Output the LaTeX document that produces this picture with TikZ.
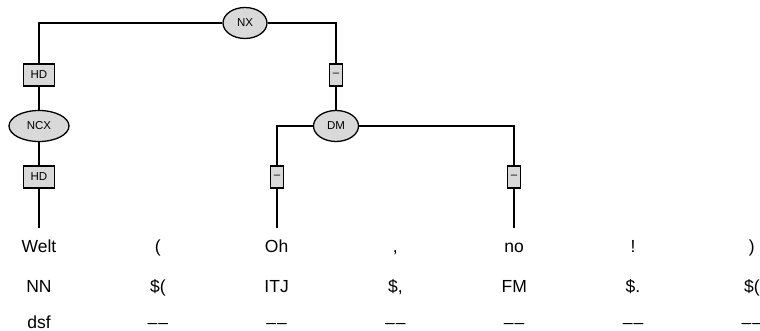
\documentclass[tikz,border=0pt]{standalone}
\usepackage{fontspec}
\setmainfont{Liberation Sans}
\usepackage{tikz}
\usetikzlibrary{shapes.geometric}
\newcommand{\dashpair}{\textendash\kern1pt\textendash}

\begin{document}
\begin{tikzpicture}[x=1pt, y=-1pt, line width=1.2pt,
  cat/.style={ellipse, draw, fill=black!15, line width=1.3pt, inner sep=0pt, minimum height=31pt, font=\fontsize{11.5}{13}\selectfont},
  fn/.style={rectangle, draw, fill=black!15, line width=1.3pt, inner sep=0pt, minimum height=22pt, font=\fontsize{11.5}{13}\selectfont},
  tok/.style={anchor=base, inner sep=0pt, font=\fontsize{17.5}{20}\selectfont}]
  \useasboundingbox (0,0) rectangle (760,331);
  % categories and functions
  \node[cat, minimum width=44pt] (nx) at (245,23) {NX};
  \node[fn, minimum width=31pt] (hd1) at (39,75) {HD};
  \node[cat, minimum width=60pt] (ncx) at (39,126) {NCX};
  \node[fn, minimum width=31pt] (hd2) at (39,177) {HD};
  \node[fn, minimum width=13pt] (fa) at (336,75) {\textendash};
  \node[cat, minimum width=45pt] (dm) at (336,126) {DM};
  \node[fn, minimum width=13pt] (fb) at (277,177) {\textendash};
  \node[fn, minimum width=13pt] (fc) at (514,177) {\textendash};
  % ends of the edges above the words
  \coordinate (e0) at (39,228);
  \coordinate (e2) at (277,228);
  \coordinate (e4) at (514,228);
  % edges
  \draw (nx.west) -| (hd1.north);
  \draw (nx.east) -| (fa.north);
  \draw (hd1) -- (ncx);
  \draw (ncx) -- (hd2);
  \draw (hd2) -- (e0);
  \draw (fa) -- (dm);
  \draw (dm.west) -| (fb.north);
  \draw (dm.east) -| (fc.north);
  \draw (fb) -- (e2);
  \draw (fc) -- (e4);
  % words, tags and features
  \foreach \i/\w/\p/\s in {0/Welt/NN/dsf, 1/(/\$(/\dashpair, 2/Oh/ITJ/\dashpair,
      3/{,}/{\$,}/\dashpair, 4/no/FM/\dashpair, 5/!/\$./\dashpair, 6/)/\$(/\dashpair} {
    \node[tok] (w\i) at ({39+118.8*\i},252) {\w};
    \node[tok] (p\i) at ({39+118.8*\i},292) {\p};
    \node[tok] (s\i) at ({39+118.8*\i},328) {\s};
  }
\end{tikzpicture}
\end{document}
